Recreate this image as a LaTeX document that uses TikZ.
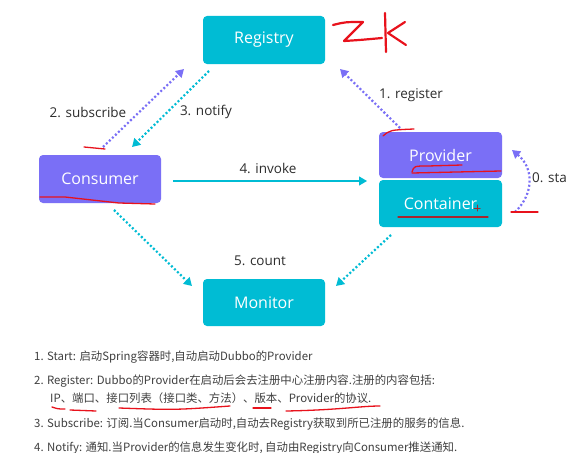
\documentclass[tikz,border=0pt]{standalone}
\usepackage{fontspec}
\setmainfont{Open Sans}
\newfontfamily\cjk{Noto Sans CJK SC}
\usetikzlibrary{arrows.meta}
\definecolor{cyanbox}{RGB}{0,188,212}
\definecolor{purplebox}{RGB}{122,111,246}
\definecolor{txt}{RGB}{45,45,45}
\definecolor{notetxt}{RGB}{64,64,64}
\definecolor{redpen}{RGB}{232,18,28}
\definecolor{darkred}{RGB}{168,38,44}
\begin{document}
\begin{tikzpicture}[x=1pt,y=-1pt,
  box/.style={rounded corners=4pt, minimum width=122pt, minimum height=48pt, text=white,
    font=\fontsize{16}{18}\selectfont, inner sep=0pt},
  lbl/.style={text=txt, font=\fontsize{13.5}{15}\selectfont, inner sep=0pt},
  dotline/.style={line width=2.2pt, dash pattern=on 2pt off 2.2pt},
  tip/.style={-{Triangle[length=8pt,width=9pt]}},
  pen/.style={redpen, line width=1.3pt, line cap=round, line join=round},
  note/.style={anchor=base west, inner sep=0pt, text=notetxt, font=\cjk\fontsize{11.4}{13}\selectfont}
]
\clip (0,0) rectangle (567,452);
\fill[white] (0,0) rectangle (567,452);

% boxes
\node[box, fill=cyanbox] (reg) at (264,40) {Registry};
\node[box, fill=purplebox] (con) at (100,179) {Consumer};
\node[box, fill=purplebox, minimum width=123pt, minimum height=46pt] (prov) at (440.5,155) {Provider};
\node[box, fill=cyanbox, minimum width=123pt, minimum height=47pt] (cont) at (440.5,203.5) {Container};
\node[box, fill=cyanbox, minimum height=47pt] (mon) at (264,302.5) {Monitor};

% connector end points
\coordinate (subS) at (103,147);
\coordinate (subE) at (184,69);
\coordinate (notS) at (209,71);
\coordinate (notE) at (132,147);
\coordinate (regS) at (400,128);
\coordinate (regE) at (340,69);
\coordinate (invS) at (173,181);
\coordinate (invE) at (367,181);
\coordinate (cnt1S) at (114,210);
\coordinate (cnt1E) at (192,286);
\coordinate (cnt2S) at (391,235);
\coordinate (cnt2E) at (336,286);
\coordinate (staS) at (515,212);
\coordinate (staE) at (512,150);

% connectors
\draw[dotline, purplebox, tip] (subS) -- (subE);
\draw[dotline, cyanbox, tip] (notS) -- (notE);
\draw[dotline, purplebox, tip] (regS) -- (regE);
\draw[cyanbox, line width=1.2pt, tip] (invS) -- (invE);
\draw[dotline, cyanbox, tip] (cnt1S) -- (cnt1E);
\draw[dotline, cyanbox, tip] (cnt2S) -- (cnt2E);
\draw[dotline, purplebox, tip] (staS) .. controls (534,194) and (534,168) .. (staE);

% labels
\node[lbl] (lsub) at (88,112) {2. subscribe};
\node[lbl] (lnot) at (206,112) {3. notify};
\node[lbl] (lreg) at (411,95) {1. register};
\node[lbl] (linv) at (268,168) {4. invoke};
\node[lbl] (lcnt) at (260,261) {5. count};
\node[lbl, anchor=west] (lsta) at (532,178) {0. sta};

% notes
\node[note] (n1) at (34,360) {1. Start: 启动Spring容器时,自动启动Dubbo的Provider};
\node[note] (n2) at (34,384) {2. Register: Dubbo的Provider在启动后会去注册中心注册内容.注册的内容包括:};
\node[note] (n2b) at (50,402) {IP、端口、接口列表（接口类、方法）、版本、Provider的协议.};
\node[note] (n3) at (34,427) {3. Subscribe: 订阅.当Consumer启动时,自动去Registry获取到所已注册的服务的信息.};
\node[note] (n4) at (34,451) {4. Notify: 通知.当Provider的信息发生变化时, 自动由Registry向Consumer推送通知.};

% red pen annotations
\draw[pen, line width=2.2pt] (333,25) .. controls (345,22) .. (363,22) .. controls (355,30) .. (344,41) .. controls (360,40) .. (382,38);
\draw[pen, line width=2.2pt] (385,13) -- (386,52);
\draw[pen, line width=2.2pt] (405,22) -- (388,33) -- (406,45);
\draw[pen] (84,147) .. controls (95,148) .. (105,149);
\draw[pen] (383,136) .. controls (390,130) .. (414,129);
\draw[pen] (412,172) .. controls (414,166) .. (428,166) -- (462,165);
\draw[pen] (412,173) -- (501,171);
\draw[pen, darkred] (398,217) -- (488,217);
\draw[pen, darkred, line width=1pt] (474,208) -- (480,208) (477,205) -- (477,211);
\draw[pen] (511,212) -- (538,212);
\draw[pen] (40,197) -- (65,197) -- (119,203) -- (155,204);
\draw[pen] (52,407) .. controls (58,409) .. (65,409);
\draw[pen] (70,410) -- (96,411);
\draw[pen] (119,408) .. controls (175,410) .. (230,406);
\draw[pen] (253,408) -- (271,408);
\draw[pen] (286,411) .. controls (340,410) and (360,406) .. (380,406);
\end{tikzpicture}
\end{document}
